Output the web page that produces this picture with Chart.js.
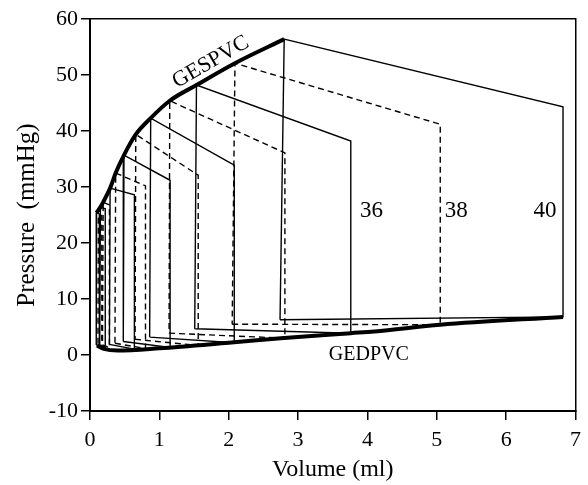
<!DOCTYPE html>
<html><head><meta charset="utf-8">
<script src="https://cdn.jsdelivr.net/npm/chart.js@4/dist/chart.umd.min.js"></script>
<style>html,body{margin:0;padding:0;background:#fff;}</style>
</head><body>
<canvas id="c" width="588" height="485"></canvas>
<script>
// ---- data (volume in ml, pressure in mmHg) ----
const loopNames = ['loop 40','loop 38','loop 36','loop 4','loop 5','loop 6','loop 7','loop 8','loop 9','loop 10','loop 11','loop 12','loop 13'];
const edv    = [6.82, 5.05, 3.76, 2.81, 2.08, 1.56, 1.155, 0.80, 0.64, 0.28, 0.22, 0.17, 0.135];
const edp    = [6.8, 5.4, 3.9, 3.0, 2.2, 1.7, 1.35, 1.15, 1.05, 1.3, 1.4, 1.5, 1.6];
const openP  = [44.3, 41.2, 38.2, 36.1, 33.9, 32.1, 31.2, 30.2, 28.6, 26.8, 26.1, 25.6, 25.2];
const esv    = [2.80, 2.09, 1.535, 1.15, 0.875, 0.66, 0.49, 0.37, 0.29, 0.19, 0.15, 0.12, 0.095];
const esp    = [56.4, 52.1, 48.2, 45.4, 42.3, 39.4, 35.7, 32.5, 29.8, 27.3, 26.4, 25.8, 25.4];
const relaxV = [2.74, 2.05, 1.51, 1.14, 0.86, 0.65, 0.48, 0.36, 0.28, 0.18, 0.14, 0.115, 0.09];
const relaxP = [6.3, 5.5, 4.7, 3.9, 3.2, 2.8, 2.4, 2.1, 1.9, 1.8, 1.8, 1.8, 1.8];
const loopDashed = [false,true,false,true,false,true,false,true,false,true,false,true,false];

const gespV = [0.095, 0.15, 0.19, 0.29, 0.37, 0.49, 0.66, 0.875, 1.15, 1.535, 2.09, 2.80];
const gespP = [25.4, 26.4, 27.3, 29.8, 32.5, 35.7, 39.4, 42.3, 45.4, 48.2, 52.1, 56.4];
const gedpV = [0.1, 0.2, 0.4, 1.0, 2.0, 2.75, 3.76, 4.1, 5.05, 6.82];
const gedpP = [1.7, 1.1, 0.8, 1.2, 2.2, 3.0, 3.9, 4.2, 5.4, 6.8];

const annText = ['36', '38', '40', 'GEDPVC', 'GESPVC'];
const annX    = [4.06, 5.28, 6.56, 4.02, 1.74];
const annY    = [25.7, 25.7, 25.7, 0.0, 52.3];

const xTicks = {min: 0, max: 7, step: 1};
const yTicks = {min: -10, max: 60, step: 10};

// ---- styles ----
const SERIF = "'Liberation Serif', 'Times New Roman', serif";
const annFont = ['23px ' + SERIF, '23px ' + SERIF, '23px ' + SERIF, '20px ' + SERIF, '22px ' + SERIF];
const annAngle = [0, 0, 0, 0, -30];

const datasets = [];
loopNames.forEach((name, i) => {
  datasets.push({
    label: name,
    data: [
      {x: relaxV[i], y: relaxP[i]},
      {x: edv[i], y: edp[i]},
      {x: edv[i], y: openP[i]},
      {x: esv[i], y: esp[i]},
      {x: relaxV[i], y: relaxP[i]}
    ],
    showLine: true, pointRadius: 0, borderColor: '#000', borderWidth: 1.4,
    borderDash: loopDashed[i] ? [6, 4] : [], borderJoinStyle: 'miter', fill: false
  });
});
datasets.push({
  label: 'GEDPVC',
  data: gedpV.map((v, i) => ({x: v, y: gedpP[i]})),
  showLine: true, pointRadius: 0, borderColor: '#000', borderWidth: 4, cubicInterpolationMode: 'monotone', fill: false
});
datasets.push({
  label: 'GESPVC',
  data: gespV.map((v, i) => ({x: v, y: gespP[i]})),
  showLine: true, pointRadius: 0, borderColor: '#000', borderWidth: 4, cubicInterpolationMode: 'monotone', fill: false
});

const annotate = {
  id: 'annotate',
  afterDatasetsDraw(chart) {
    const {ctx, scales: {x, y}} = chart;
    ctx.save();
    ctx.fillStyle = '#000';
    ctx.textAlign = 'center';
    ctx.textBaseline = 'middle';
    annText.forEach((t, i) => {
      ctx.save();
      ctx.translate(x.getPixelForValue(annX[i]), y.getPixelForValue(annY[i]));
      ctx.rotate(annAngle[i] * Math.PI / 180);
      ctx.font = annFont[i];
      ctx.fillText(t, 0, 0);
      ctx.restore();
    });
    ctx.restore();
  }
};

Chart.defaults.font.family = SERIF;
Chart.defaults.color = '#000';

new Chart(document.getElementById('c'), {
  type: 'scatter',
  data: {datasets},
  options: {
    responsive: false, animation: false, devicePixelRatio: 1,
    layout: {padding: {top: 19, right: 10, left: 0, bottom: 0}},
    plugins: {legend: {display: false}, tooltip: {enabled: false}},
    scales: {
      x: {
        type: 'linear', position: 'bottom', min: xTicks.min, max: xTicks.max,
        ticks: {stepSize: xTicks.step, color: '#000', font: {size: 22}, padding: 7},
        grid: {drawOnChartArea: false, tickLength: 9, color: '#000', lineWidth: 1.5},
        border: {color: '#000', width: 2},
        title: {display: true, text: 'Volume (ml)', color: '#000', font: {size: 24}, padding: {top: 0, bottom: 1}},
        afterFit(s) { s.height = 74; }
      },
      y: {
        type: 'linear', position: 'left', min: yTicks.min, max: yTicks.max,
        ticks: {stepSize: yTicks.step, color: '#000', font: {size: 22}, padding: 3},
        grid: {drawOnChartArea: false, tickLength: 9, color: '#000', lineWidth: 1.5},
        border: {color: '#000', width: 2},
        title: {display: true, text: 'Pressure  (mmHg)', color: '#000', font: {size: 25}, padding: {top: 12, bottom: 0}},
        afterFit(s) { s.width = 90; }
      },
      x2: {
        type: 'linear', position: 'top', min: xTicks.min, max: xTicks.max,
        ticks: {display: false}, grid: {display: false},
        border: {color: '#000', width: 1.5},
        afterFit(s) { s.height = 0; }
      },
      y2: {
        type: 'linear', position: 'right', min: yTicks.min, max: yTicks.max,
        ticks: {display: false}, grid: {display: false},
        border: {color: '#000', width: 1.5},
        afterFit(s) { s.width = 0; }
      }
    }
  },
  plugins: [annotate]
});
</script>
</body></html>
